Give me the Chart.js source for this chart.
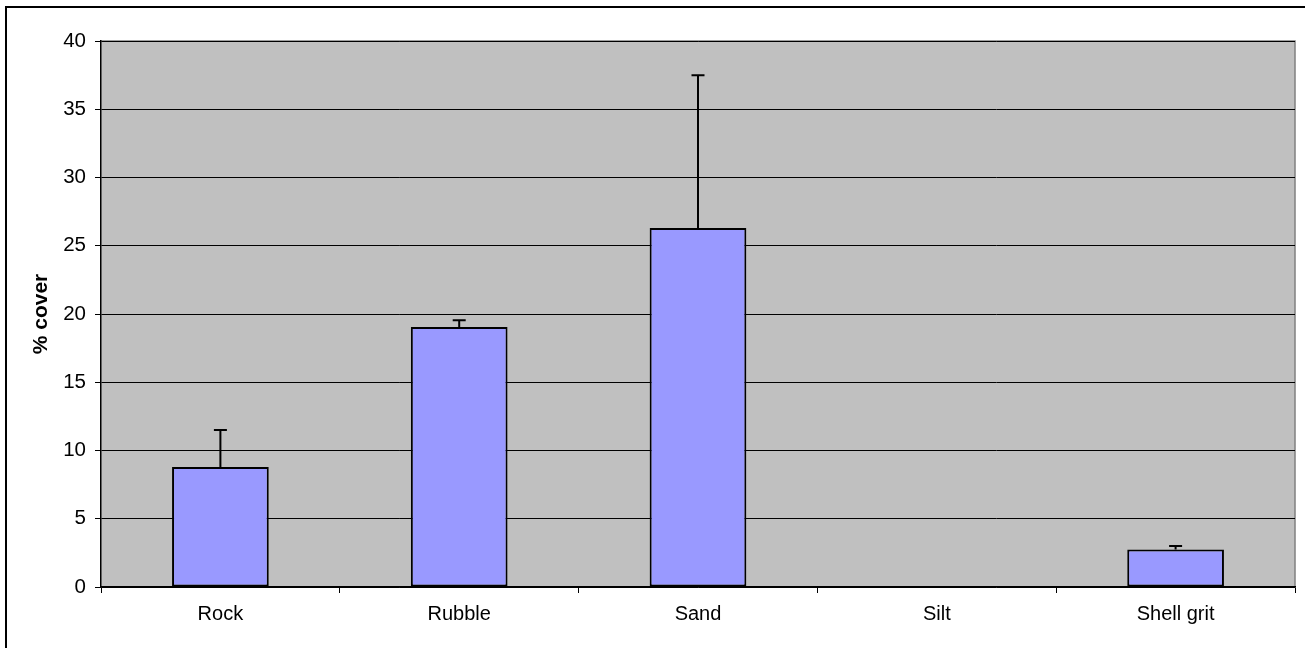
<!DOCTYPE html>
<html>
<head>
<meta charset="utf-8">
<script src="https://cdn.jsdelivr.net/npm/chart.js@4.4.0/dist/chart.umd.min.js"></script>
<style>
  html, body { margin: 0; padding: 0; background: #fff; }
  #wrap { width: 1305px; height: 648px; }
</style>
</head>
<body>
<div id="wrap"><canvas id="chart" width="1305" height="648"></canvas></div>
<script>
const categories = ['Rock', 'Rubble', 'Sand', 'Silt', 'Shell grit'];
const cover = [8.8, 19.05, 26.3, 0, 2.75];
const coverError = [2.7, 0.5, 11.2, 0, 0.25];
const yTicks = [0, 5, 10, 15, 20, 25, 30, 35, 40];

const fontFamily = 'Arial, "Liberation Sans", sans-serif';

// grey plot area and outer frame
const background = {
    id: 'background',
    beforeDraw(c) {
        const ctx = c.ctx;
        const a = c.chartArea;
        ctx.save();
        ctx.fillStyle = '#fff';
        ctx.fillRect(0, 0, c.width, c.height);
        ctx.strokeStyle = '#000';
        ctx.lineWidth = 2;
        ctx.strokeRect(6, 7, c.width + 20, c.height + 20);
        ctx.fillStyle = '#c0c0c0';
        ctx.fillRect(a.left, a.top, a.right - a.left, a.bottom - a.top);
        ctx.strokeStyle = '#808080';
        ctx.lineWidth = 1.5;
        ctx.beginPath();
        ctx.moveTo(a.left, a.top);
        ctx.lineTo(a.right, a.top);
        ctx.lineTo(a.right, a.bottom);
        ctx.stroke();
        ctx.restore();
    }
};

// upward error bars
const errorBars = {
    id: 'errorBars',
    afterDatasetsDraw(c) {
        const ctx = c.ctx;
        const y = c.scales.y;
        const meta = c.getDatasetMeta(0);
        ctx.save();
        ctx.strokeStyle = '#000';
        ctx.lineWidth = 2;
        meta.data.forEach((bar, i) => {
            if (!coverError[i]) return;
            const top = y.getPixelForValue(cover[i] + coverError[i]);
            const base = y.getPixelForValue(cover[i]);
            ctx.beginPath();
            ctx.moveTo(bar.x, base);
            ctx.lineTo(bar.x, top);
            ctx.moveTo(bar.x - 6.5, top);
            ctx.lineTo(bar.x + 6.5, top);
            ctx.stroke();
        });
        ctx.restore();
    }
};

new Chart(document.getElementById('chart'), {
    type: 'bar',
    data: {
        labels: categories,
        datasets: [{
            label: '% cover',
            data: cover,
            backgroundColor: '#9999ff',
            borderColor: '#000',
            borderWidth: 2,
            borderSkipped: false,
            categoryPercentage: 1,
            barPercentage: 0.405
        }]
    },
    options: {
        responsive: false,
        animation: false,
        layout: { padding: { top: 41, right: 10, left: 0, bottom: 0 } },
        plugins: {
            legend: { display: false },
            tooltip: { enabled: false }
        },
        scales: {
            x: {
                offset: true,
                afterFit: (s) => { s.height = 61; },
                grid: {
                    offset: true,
                    drawOnChartArea: false,
                    tickLength: 6,
                    color: '#000'
                },
                border: { color: '#000', width: 1.5 },
                ticks: {
                    color: '#000',
                    padding: 9,
                    font: { family: fontFamily, size: 20 }
                }
            },
            y: {
                min: 0,
                max: 40,
                afterFit: (s) => { s.width = 101; },
                afterBuildTicks: (s) => { s.ticks = yTicks.map(v => ({ value: v })); },
                grid: {
                    color: '#000',
                    tickLength: 6,
                    lineWidth: 1
                },
                border: { color: '#000', width: 1.5 },
                ticks: {
                    color: '#000',
                    padding: 9,
                    font: { family: fontFamily, size: 20.5 }
                }
            ,
                title: {
                    display: true,
                    text: '% cover',
                    color: '#000',
                    padding: { top: 29, bottom: 0 },
                    font: { family: fontFamily, size: 21, weight: 'bold' }
                }
            }
        }
    },
    plugins: [background, errorBars]
});
</script>
</body>
</html>
